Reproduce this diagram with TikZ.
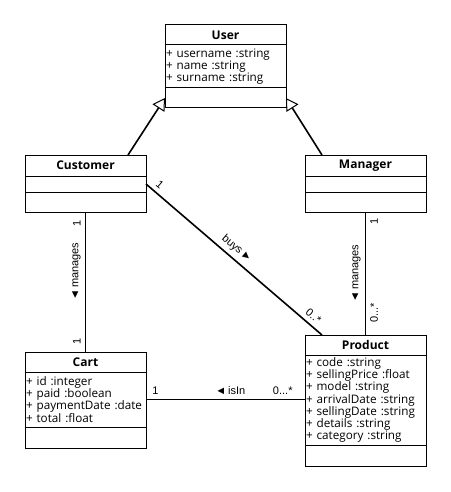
\documentclass[tikz,border=0pt]{standalone}
\usepackage{fontspec}
\setmainfont{Open Sans}
\newfontfamily\lblfont{Liberation Sans}
\usetikzlibrary{arrows.meta}
\tikzset{
  part/.style={draw, line width=1pt, outer sep=0pt, minimum width=121pt, inner xsep=1pt, inner ysep=0pt, text width=119pt, anchor=north west},
  hdr/.style={part, minimum height=20pt, align=center, font=\fontsize{12}{14}\selectfont\bfseries},
  attrs/.style={part, align=left, font=\fontsize{11.7}{12.2}\selectfont},
  meths/.style={part, minimum height=20pt},
  conn/.style={line width=1.6pt},
  lbl/.style={font=\lblfont\fontsize{11}{13}\selectfont, inner sep=1pt},
  inh/.style={line width=1.6pt, -{Triangle[open, length=12pt, width=14pt, line width=1pt]}},
}
\begin{document}
\begin{tikzpicture}[x=1pt, y=-1pt]
\useasboundingbox (0,0) rectangle (450,492);
% User
\node[hdr] (userH) at (165,25) {User};
\node[attrs, minimum height=43pt] (userA) at (userH.south west) {+ username :string\\+ name :string\\+ surname :string};
\node[meths] (userM) at (userA.south west) {};
% Customer
\node[hdr, minimum height=21pt] (custH) at (25,155) {Customer};
\node[meths, minimum height=16pt] (custA) at (custH.south west) {};
\node[meths] (custM) at (custA.south west) {};
% Manager
\node[hdr, minimum height=21pt] (manH) at (305,155) {Manager};
\node[meths, minimum height=16pt] (manA) at (manH.south west) {};
\node[meths] (manM) at (manA.south west) {};
% Cart
\node[hdr] (cartH) at (25,352) {Cart};
\node[attrs, minimum height=55pt] (cartA) at (cartH.south west) {+ id :integer\\+ paid :boolean\\\mbox{+ paymentDate :date}\\+ total :float};
\node[meths, minimum height=21pt] (cartM) at (cartA.south west) {};
% Product
\node[hdr] (prodH) at (305,335) {Product};
\node[attrs, minimum height=90pt] (prodA) at (prodH.south west) {+ code :string\\+ sellingPrice :float\\+ model :string\\+ arrivalDate :string\\+ sellingDate :string\\+ details :string\\+ category :string};
\node[meths, minimum height=21pt] (prodM) at (prodA.south west) {};
% inheritance
\draw[inh] ([xshift=-18pt]custH.north east) -- (userM.west);
\draw[inh] ([xshift=17pt]manH.north west) -- (userM.east);
% Customer - Cart
\draw[conn] (cartH.north) -- (custM.south)
  node[lbl, pos=0.078, sloped, above=3pt] {1}
  node[lbl, pos=0.574, sloped, above=3pt] {◄\,manages}
  node[lbl, pos=0.92, sloped, above=3pt] {1};
% Manager - Product
\draw[conn] (prodH.north) -- (manM.south)
  node[lbl, pos=0.18, sloped, below=3pt] {0...*}
  node[lbl, pos=0.5, sloped, above=3pt] {◄\,manages}
  node[lbl, pos=0.92, sloped, below=3pt] {1};
% Cart - Product
\draw[conn] (cartA.east) -- (prodA.west |- cartA.east)
  node[lbl, pos=0.06, above=3pt] {1}
  node[lbl, pos=0.53, above=3pt] {◄\,isIn}
  node[lbl, pos=0.86, above=3pt] {0...*};
% Customer - Product
\draw[conn] (custA.east) -- ([xshift=17pt]prodH.north west)
  node[lbl, pos=0.047, sloped, above=3pt] {1}
  node[lbl, pos=0.48, sloped, above=3pt] {buys\,►}
  node[lbl, pos=0.92, sloped, above=3pt] {0..*};
\end{tikzpicture}
\end{document}
